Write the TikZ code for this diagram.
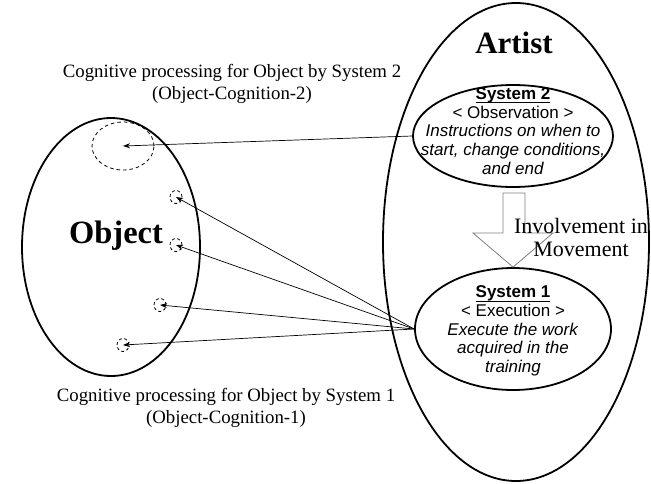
\documentclass[tikz,border=0pt]{standalone}
\usepackage{fontspec}
\setmainfont{Liberation Serif}
\setsansfont{Liberation Sans}
\usetikzlibrary{shapes.geometric,arrows.meta}
\newcommand{\sysul}[1]{\underline{\raisebox{0pt}[\height][1.6pt]{#1}}}
\begin{document}
\begin{tikzpicture}[x=1pt,y=-1pt,
 bigell/.style={ellipse,draw,line width=1.8pt,inner sep=0pt},
 dcirc/.style={ellipse,draw,dash pattern=on 3.5pt off 3pt,line width=0.8pt,inner sep=0pt},
 conn/.style={-{Stealth[length=7pt,width=5pt]},line width=0.7pt},
 systxt/.style={align=center,font=\sffamily\fontsize{17}{18.7}\selectfont},
 lbl/.style={align=center,font=\fontsize{18.8}{22.5}\selectfont},
 title/.style={font=\bfseries\fontsize{31}{34}\selectfont},
]
\useasboundingbox (0,0) rectangle (651,483);
\node[bigell,minimum width=266pt,minimum height=478pt] (artist) at (516,242) {};
\node[bigell,minimum width=178pt,minimum height=258pt] (object) at (111,247) {};
\node[bigell,minimum width=200pt,minimum height=102pt] (sys2) at (513,136) {};
\node[bigell,minimum width=196pt,minimum height=122pt] (sys1) at (513,329) {};

\node[title] (artistlbl) at (514,43) {Artist};
\node[title,font=\bfseries\fontsize{32.5}{34}\selectfont] (objectlbl) at (116,236) {Object};

\node[systxt] (sys2txt) at (513,131) {\textbf{\sysul{System 2}}\\< Observation >\\\textit{Instructions on when to}\\\textit{start, change conditions,}\\\textit{and end}};
\node[systxt] (sys1txt) at (513,331) {\textbf{\sysul{System 1}}\\< Execution >\\\textit{Execute the work}\\\textit{acquired in the}\\\textit{training}};

\draw[gray,line width=0.8pt,fill=white] (503,193) -- (525,193) -- (525,233) -- (553,233) -- (sys1.north) -- (473,233) -- (503,233) -- cycle;
\node[align=center,font=\fontsize{22}{23}\selectfont] (inv) at (581,237) {Involvement in\\Movement};

\node[dcirc,minimum width=62pt,minimum height=48pt] (oc2) at (123,146) {};
\node[dcirc,minimum width=12pt,minimum height=13pt,dash pattern=on 3pt off 2.5pt] (s1a) at (176,197) {};
\node[dcirc,minimum width=12pt,minimum height=13pt,dash pattern=on 3pt off 2.5pt] (s1b) at (176,245) {};
\node[dcirc,minimum width=12pt,minimum height=13pt,dash pattern=on 3pt off 2.5pt] (s1c) at (160,305) {};
\node[dcirc,minimum width=12pt,minimum height=13pt,dash pattern=on 3pt off 2.5pt] (s1d) at (123,345) {};

\draw[conn] (sys2.west) -- (oc2.center);
\draw[conn] (sys1.west) -- (s1a.center);
\draw[conn] (sys1.west) -- (s1b.center);
\draw[conn] (sys1.west) -- (s1c.center);
\draw[conn] (sys1.west) -- (s1d.center);

\node[lbl] (top) at (232,84) {Cognitive processing for Object by System 2\\(Object-Cognition-2)};
\node[lbl] (bot) at (226,408) {Cognitive processing for Object by System 1\\(Object-Cognition-1)};
\end{tikzpicture}
\end{document}
